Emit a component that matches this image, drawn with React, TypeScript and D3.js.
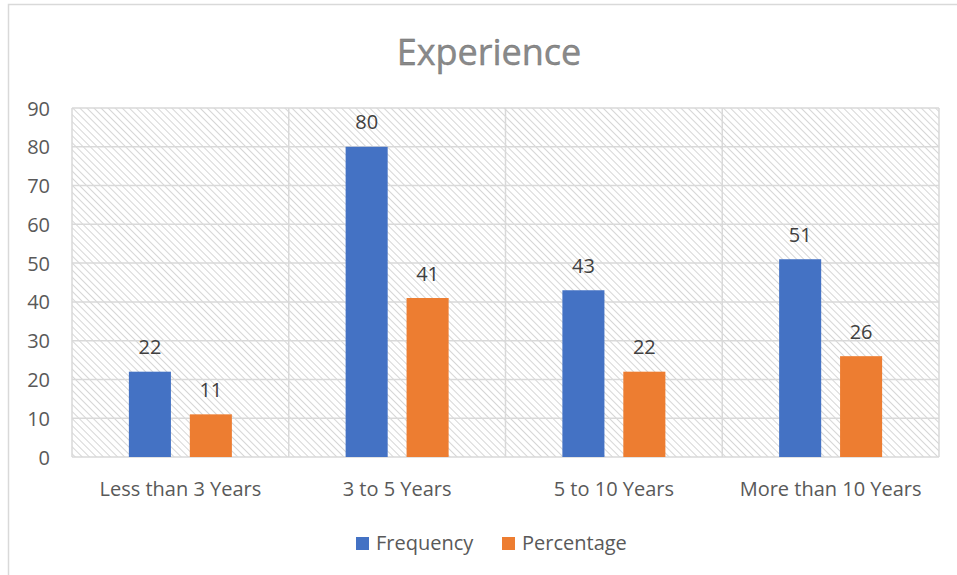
import React, { useEffect, useRef } from 'react';
import { select, scaleBand, scaleLinear } from 'd3';

const categories = ['Less than 3 Years', '3 to 5 Years', '5 to 10 Years', 'More than 10 Years'];
const seriesNames = ['Frequency', 'Percentage'];
const frequency = [22, 80, 43, 51];
const percentage = [11, 41, 22, 26];
const yTicks = [0, 10, 20, 30, 40, 50, 60, 70, 80, 90];
const colors = ['#4472c4', '#ed7d31'];

const FONT = '"Open Sans", sans-serif';

const App = () => {
  const svgRef = useRef<SVGSVGElement>(null);

  useEffect(() => {
    const width = 957;
    const height = 575;
    const margin = { top: 108, right: 18, bottom: 118, left: 72 };
    const innerW = width - margin.left - margin.right;
    const innerH = height - margin.top - margin.bottom;

    const svg = select(svgRef.current);
    svg.selectAll('*').remove();

    // chart frame (runs off the bottom/right like the screenshot)
    svg.append('rect')
      .attr('x', 8.5).attr('y', 4.5)
      .attr('width', 1000).attr('height', 700)
      .attr('fill', '#fff')
      .attr('stroke', '#d9d9d9')
      .attr('stroke-width', 1.5);

    const defs = svg.append('defs');
    const pat = defs.append('pattern')
      .attr('id', 'hatch')
      .attr('patternUnits', 'userSpaceOnUse')
      .attr('width', 5).attr('height', 5)
      .attr('patternTransform', 'rotate(-45)');
    pat.append('rect').attr('width', 5).attr('height', 5).attr('fill', '#fff');
    pat.append('line')
      .attr('x1', 0).attr('y1', 0).attr('x2', 0).attr('y2', 5)
      .attr('stroke', '#d6d6d6').attr('stroke-width', 2);

    svg.append('text')
      .attr('x', 489).attr('y', 65)
      .attr('text-anchor', 'middle')
      .style('font-family', FONT)
      .style('font-size', '36px')
      .attr('fill', '#8a8a8a')
      .attr('stroke', '#6f6f6f')
      .attr('stroke-width', 0.4)
      .text('Experience');

    const g = svg.append('g').attr('transform', `translate(${margin.left},${margin.top})`);

    const groupW = 103;
    const x = scaleBand().domain(categories).range([0, innerW]);
    const x1 = scaleBand().domain(seriesNames).range([0, groupW]).paddingInner(0.31);
    const y = scaleLinear().domain([0, 90]).range([innerH, 0]);

    g.append('rect')
      .attr('width', innerW).attr('height', innerH)
      .attr('fill', 'url(#hatch)');

    // horizontal gridlines
    g.selectAll('line.h')
      .data(yTicks)
      .enter().append('line')
      .attr('class', 'h')
      .attr('x1', 0).attr('x2', innerW)
      .attr('y1', d => y(d)).attr('y2', d => y(d))
      .attr('stroke', '#d9d9d9').attr('stroke-width', 1.5);

    // vertical category separators
    const seps = [0, ...categories.map(c => (x(c) as number) + x.bandwidth())];
    g.selectAll('line.v')
      .data(seps)
      .enter().append('line')
      .attr('class', 'v')
      .attr('x1', d => d).attr('x2', d => d)
      .attr('y1', 0).attr('y2', innerH)
      .attr('stroke', '#d9d9d9').attr('stroke-width', 1.5);

    g.selectAll('text.ytick')
      .data(yTicks)
      .enter().append('text')
      .attr('class', 'ytick')
      .attr('x', -22).attr('y', d => y(d))
      .attr('text-anchor', 'end')
      .attr('dominant-baseline', 'central')
      .style('font-family', FONT)
      .style('font-size', '20px')
      .attr('fill', '#595959')
      .text(d => d);

    const series = [frequency, percentage];
    series.forEach((vals, si) => {
      const name = seriesNames[si];
      const bx = (i: number) => (x(categories[i]) as number) + (x.bandwidth() - groupW) / 2 + (x1(name) as number);
      const bars = g.append('g');
      bars.selectAll('rect')
        .data(vals)
        .enter().append('rect')
        .attr('x', (d, i) => bx(i))
        .attr('y', d => y(d))
        .attr('width', x1.bandwidth())
        .attr('height', d => innerH - y(d))
        .attr('fill', colors[si]);
      bars.selectAll('text')
        .data(vals)
        .enter().append('text')
        .attr('x', (d, i) => bx(i) + x1.bandwidth() / 2)
        .attr('y', d => y(d) - 25)
        .attr('text-anchor', 'middle')
        .attr('dominant-baseline', 'central')
        .style('font-family', FONT)
        .style('font-size', '20px')
        .attr('fill', '#404040')
        .text(d => d);
    });

    g.selectAll('text.xlab')
      .data(categories)
      .enter().append('text')
      .attr('class', 'xlab')
      .attr('x', d => (x(d) as number) + x.bandwidth() / 2)
      .attr('y', innerH + 31)
      .attr('text-anchor', 'middle')
      .attr('dominant-baseline', 'central')
      .style('font-family', FONT)
      .style('font-size', '20px')
      .attr('fill', '#595959')
      .text(d => d);

    // legend
    const legendItems = [{ x: 356, label: seriesNames[0] }, { x: 502, label: seriesNames[1] }];
    const lg = svg.append('g');
    legendItems.forEach((it, i) => {
      lg.append('rect')
        .attr('x', it.x).attr('y', 537)
        .attr('width', 13).attr('height', 13)
        .attr('fill', colors[i]);
      lg.append('text')
        .attr('x', it.x + 20).attr('y', 542)
        .attr('dominant-baseline', 'central')
        .style('font-family', FONT)
        .style('font-size', '20px')
        .attr('fill', '#595959')
        .text(it.label);
    });
  }, []);

  return (
    <svg
      ref={svgRef}
      width={957}
      height={575}
      style={{ position: 'absolute', left: 0, top: 0, background: '#fff' }}
    />
  );
};

export default App;
